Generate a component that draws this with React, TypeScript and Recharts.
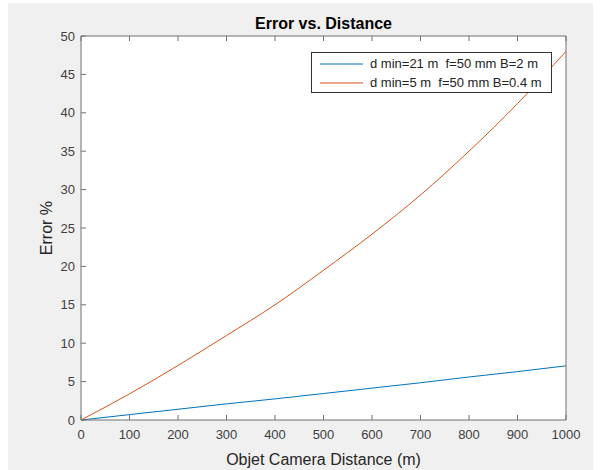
import { LineChart, Line, XAxis, YAxis, CartesianGrid, Legend } from 'recharts'

// object-camera distance (m)
const distance = [0, 100, 200, 300, 400, 500, 600, 700, 800, 900, 1000]
// error % for each setup
const errorLong = [0, 0.7, 1.4, 2.1, 2.75, 3.45, 4.15, 4.85, 5.6, 6.3, 7.05]
const errorShort = [0, 3.4, 7.1, 11.0, 15.0, 19.5, 24.2, 29.3, 35.0, 41.2, 48.0]

const xTicks = [0, 100, 200, 300, 400, 500, 600, 700, 800, 900, 1000]
const yTicks = [0, 5, 10, 15, 20, 25, 30, 35, 40, 45, 50]

const seriesNames = ['d min=21 m  f=50 mm B=2 m', 'd min=5 m  f=50 mm B=0.4 m']

const data = distance.map((d, i) => ({ d, a: errorLong[i], b: errorShort[i] }))

const FONT = '"Liberation Sans", Arial, Helvetica, sans-serif'
const AXIS = '#707070'
const TEXT = '#404040'
const TICK = 5
const GAP_X = 10
const GAP_Y = 6

const BottomTick = (props: any) => {
  const { x, y, payload } = props
  return (
    <g>
      <line x1={x} x2={x} y1={y - GAP_X} y2={y - GAP_X - TICK} stroke={AXIS} />
      <text x={x} y={y} dy="0.71em" textAnchor="middle" fill={TEXT} fontSize={13} fontFamily={FONT}>
        {payload.value}
      </text>
    </g>
  )
}

const TopTick = (props: any) => {
  const { x, y } = props
  return <line x1={x} x2={x} y1={y} y2={y + TICK} stroke={AXIS} />
}

const LeftTick = (props: any) => {
  const { x, y, payload } = props
  return (
    <g>
      <line x1={x + GAP_Y} x2={x + GAP_Y + TICK} y1={y} y2={y} stroke={AXIS} />
      <text x={x} y={y} dy="0.355em" textAnchor="end" fill={TEXT} fontSize={13} fontFamily={FONT}>
        {payload.value}
      </text>
    </g>
  )
}

const RightTick = (props: any) => {
  const { x, y } = props
  return <line x1={x} x2={x - TICK} y1={y} y2={y} stroke={AXIS} />
}

const LegendBox = (props: any) => {
  const { payload } = props
  return (
    <div
      style={{
        background: '#fff',
        border: '1px solid #333',
        boxSizing: 'border-box',
        width: 241,
        height: 41,
        paddingTop: 1,
        fontFamily: FONT,
        fontSize: 13,
        color: '#222',
      }}
    >
      {(payload || []).map((p: any) => (
        <div key={p.value} style={{ display: 'flex', alignItems: 'center', height: 19 }}>
          <svg width={52} height={4} style={{ flex: 'none' }}>
            <line x1={8} x2={51} y1={2} y2={2} stroke={p.color} strokeWidth={1} />
          </svg>
          <span style={{ whiteSpace: 'pre', marginLeft: 6 }}>{p.value}</span>
        </div>
      ))}
    </div>
  )
}

export default function App() {
  return (
    <div style={{ position: 'absolute', left: 8, top: 3, width: 585, height: 467, background: '#f0f0f0' }}>
      <LineChart width={585} height={467} data={data} margin={{ top: 32, right: 26, bottom: 0, left: 3 }}>
        <CartesianGrid xAxisId="b" yAxisId="l" fill="#fff" horizontal={false} vertical={false} />
        <XAxis
          xAxisId="b"
          dataKey="d"
          type="number"
          domain={[0, 1000]}
          ticks={xTicks}
          height={50}
          tickSize={0}
          tickMargin={GAP_X}
          axisLine={{ stroke: AXIS }}
          tickLine={false}
          tick={<BottomTick />}
          interval={0}
          label={{
            value: 'Objet Camera Distance (m)',
            position: 'insideBottom',
            offset: 5,
            fill: '#262626',
            fontSize: 16,
            fontFamily: FONT,
          }}
        />
        <XAxis
          xAxisId="t"
          orientation="top"
          dataKey="d"
          type="number"
          domain={[0, 1000]}
          ticks={xTicks}
          height={1}
          tickSize={0}
          tickMargin={0}
          axisLine={{ stroke: AXIS }}
          tickLine={false}
          tick={<TopTick />}
          interval={0}
          label={{
            value: 'Error vs. Distance',
            position: 'top',
            offset: 6,
            fill: '#000',
            fontSize: 16,
            fontWeight: 'bold',
            fontFamily: FONT,
          }}
        />
        <YAxis
          yAxisId="l"
          type="number"
          domain={[0, 50]}
          ticks={yTicks}
          width={70}
          tickSize={0}
          tickMargin={GAP_Y}
          axisLine={{ stroke: AXIS }}
          tickLine={false}
          tick={<LeftTick />}
          interval={0}
          label={{
            value: 'Error %',
            angle: -90,
            position: 'center',
            fill: '#262626',
            fontSize: 16,
            fontFamily: FONT,
          }}
        />
        <YAxis
          yAxisId="r"
          orientation="right"
          type="number"
          domain={[0, 50]}
          ticks={yTicks}
          width={1}
          tickSize={0}
          tickMargin={0}
          axisLine={{ stroke: AXIS }}
          tickLine={false}
          tick={<RightTick />}
          interval={0}
        />
        <Legend
          layout="vertical"
          align="center"
          verticalAlign="middle"
          content={<LegendBox />}
          wrapperStyle={{ left: 303, top: 49, width: 241, height: 41 }}
        />
        <Line
          xAxisId="b"
          yAxisId="l"
          type="monotone"
          dataKey="a"
          name={seriesNames[0]}
          stroke="#0072BD"
          strokeWidth={1}
          dot={false}
          isAnimationActive={false}
        />
        <Line
          xAxisId="b"
          yAxisId="l"
          type="monotone"
          dataKey="b"
          name={seriesNames[1]}
          stroke="#D95319"
          strokeWidth={1}
          dot={false}
          isAnimationActive={false}
        />
      </LineChart>
    </div>
  )
}
